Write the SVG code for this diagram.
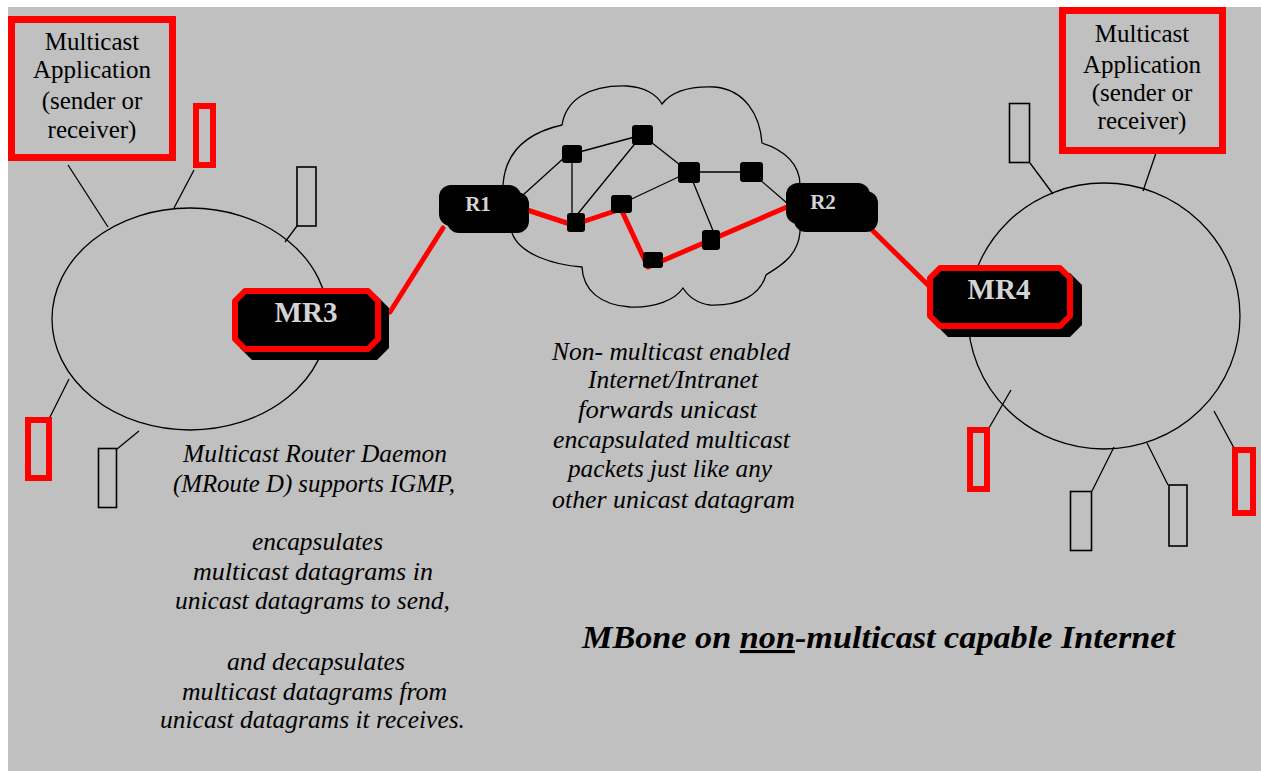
<svg xmlns="http://www.w3.org/2000/svg" width="1261" height="771" viewBox="0 0 1261 771">
  <style>
    .wire { fill: none; stroke: #000; stroke-width: 1.3; }
    .lan { fill: none; stroke: #000; stroke-width: 1.3; }
    .red { fill: none; stroke: #ff0000; stroke-linecap: round; stroke-linejoin: round; }
    .host { fill: none; stroke: #000; stroke-width: 1.6; }
    .host-red { fill: none; stroke: #ff0000; stroke-width: 6; }
    .appbox { fill: none; stroke: #ff0000; stroke-width: 7; }
    .app { font-family: "Liberation Serif", "Times New Roman", serif; font-size: 25px; fill: #000; text-anchor: middle; }
    .note { font-family: "Liberation Serif", "Times New Roman", serif; font-size: 25px; font-style: italic; fill: #000; }
    .title { font-family: "Liberation Serif", "Times New Roman", serif; font-size: 31px; font-style: italic; font-weight: bold; fill: #000; }
    .rlabel { font-family: "Liberation Serif", "Times New Roman", serif; font-weight: bold; fill: #d4d4d4; text-anchor: middle; }
    .node { fill: #000; }
    .mrouter { fill: #000; stroke: #ff0000; stroke-width: 6; stroke-linejoin: round; }
  </style>

  <!-- canvas -->
  <rect x="0" y="0" width="1261" height="771" fill="#ffffff"/>
  <rect x="8" y="7" width="1253" height="764" fill="#c0c0c0"/>

  <!-- LAN segments -->
  <g id="lan-left">
    <ellipse class="lan" cx="190" cy="319" rx="138" ry="111"/>
  </g>
  <g id="lan-right">
    <ellipse class="lan" cx="1104" cy="316" rx="136" ry="133"/>
  </g>

  <!-- non-multicast internet cloud -->
  <g id="cloud">
    <path class="lan" d="M503,185 C505,155 522,134 562,125 C566,100 588,85 627,86 C645,87 657,95 662,104 C671,92 690,86 715,87 C745,90 760,115 762,143 C785,150 800,165 800,185 L800,232 C798,258 776,268 766,275 C760,295 740,306 710,305 C696,303 688,296 683,288 C675,300 655,308 630,307 C600,305 583,290 582,267 C555,265 520,255 512,233 Z"/>
  </g>

  <!-- connectors -->
  <g id="connectors">
    <!-- taps on the left LAN -->
    <line class="wire" x1="68" y1="165" x2="108" y2="227"/>
    <line class="wire" x1="194" y1="170" x2="174" y2="208"/>
    <line class="wire" x1="297" y1="226" x2="285" y2="242"/>
    <line class="wire" x1="49" y1="419" x2="69" y2="379"/>
    <line class="wire" x1="117" y1="449" x2="139" y2="431"/>
    <!-- taps on the right LAN -->
    <line class="wire" x1="1030" y1="163" x2="1053" y2="194"/>
    <line class="wire" x1="1156" y1="153" x2="1143" y2="191"/>
    <line class="wire" x1="989" y1="428" x2="1011" y2="390"/>
    <line class="wire" x1="1092" y1="491" x2="1114" y2="447"/>
    <line class="wire" x1="1168" y1="485" x2="1147" y2="443"/>
    <line class="wire" x1="1234" y1="448" x2="1214" y2="411"/>
    <!-- links inside the cloud -->
    <line class="wire" x1="523" y1="195" x2="565" y2="157"/>
    <line class="wire" x1="572" y1="154" x2="642" y2="135"/>
    <line class="wire" x1="572" y1="154" x2="572" y2="218"/>
    <line class="wire" x1="642" y1="135" x2="576" y2="216"/>
    <line class="wire" x1="642" y1="135" x2="689" y2="172"/>
    <line class="wire" x1="621" y1="204" x2="689" y2="172"/>
    <line class="wire" x1="689" y1="172" x2="751" y2="172"/>
    <line class="wire" x1="689" y1="172" x2="716" y2="238"/>
    <line class="wire" x1="751" y1="172" x2="788" y2="204"/>
    <!-- unicast tunnel path -->
    <line class="red" stroke-width="5" x1="390" y1="312" x2="443" y2="228"/>
    <polyline class="red" stroke-width="5" points="518,207 573,225 621,209 648,267 787,207"/>
    <line class="red" stroke-width="5" x1="866" y1="224" x2="929" y2="286"/>
  </g>

  <!-- routers inside the cloud -->
  <g id="cloud-routers">
    <rect class="node" x="562" y="145" width="20" height="18" rx="3"/>
    <rect class="node" x="632" y="125" width="21" height="20" rx="3"/>
    <rect class="node" x="678" y="162" width="22" height="21" rx="3"/>
    <rect class="node" x="740" y="162" width="23" height="20" rx="3"/>
    <rect class="node" x="611" y="195" width="21" height="18" rx="3"/>
    <rect class="node" x="567" y="213" width="18" height="19" rx="3"/>
    <rect class="node" x="702" y="230" width="18" height="20" rx="3"/>
    <rect class="node" x="643" y="252" width="20" height="16" rx="3"/>
  </g>

  <!-- unicast routers -->
  <g id="R1">
    <rect class="node" x="439" y="185" width="82" height="41" rx="12"/>
    <rect class="node" x="447" y="192" width="82" height="41" rx="12"/>
    <text class="rlabel" x="478" y="211" font-size="21">R1</text>
  </g>
  <g id="R2">
    <rect class="node" x="786" y="183" width="84" height="41" rx="12"/>
    <rect class="node" x="794" y="191" width="84" height="41" rx="12"/>
    <text class="rlabel" x="823" y="209" font-size="21">R2</text>
  </g>

  <!-- multicast routers -->
  <g id="MR3">
    <path class="node" d="M252,296 H377 L389,308 V348 L377,360 H252 L240,348 V308 Z"/>
    <path class="mrouter" d="M245,291 H368 L378,301 V339 L368,349 H245 L235,339 V301 Z"/>
    <text class="rlabel" x="306" y="322" font-size="29">MR3</text>
  </g>
  <g id="MR4">
    <path class="node" d="M948,273 H1070 L1082,285 V325 L1070,337 H948 L936,325 V285 Z"/>
    <path class="mrouter" d="M940,268 H1060 L1070,278 V316 L1060,326 H940 L930,316 V278 Z"/>
    <text class="rlabel" x="999" y="299" font-size="29">MR4</text>
  </g>

  <!-- applications -->
  <g id="app-left">
    <rect class="appbox" x="11.5" y="19.5" width="161" height="138"/>
    <text class="app" x="92" y="50">Multicast</text>
    <text class="app" x="92" y="78">Application</text>
    <text class="app" x="92" y="109">(sender or</text>
    <text class="app" x="92" y="138">receiver)</text>
  </g>
  <g id="app-right">
    <rect class="appbox" x="1062.5" y="10.5" width="160" height="140"/>
    <text class="app" x="1142" y="42">Multicast</text>
    <text class="app" x="1142" y="73">Application</text>
    <text class="app" x="1142" y="101">(sender or</text>
    <text class="app" x="1142" y="129">receiver)</text>
  </g>

  <!-- hosts -->
  <g id="host-l1"><rect class="host-red" x="196" y="106" width="17" height="59"/></g>
  <g id="host-l2"><rect class="host" x="297" y="167" width="19" height="59" stroke-width="2.5"/></g>
  <g id="host-l3"><rect class="host-red" x="28" y="420" width="21" height="58"/></g>
  <g id="host-l4"><rect class="host" x="98.5" y="448.5" width="18" height="59"/></g>
  <g id="host-r1"><rect class="host" x="1009.5" y="103.5" width="20" height="59"/></g>
  <g id="host-r2"><rect class="host-red" x="970" y="430" width="17" height="59"/></g>
  <g id="host-r3"><rect class="host" x="1070.5" y="491.5" width="21" height="59"/></g>
  <g id="host-r4"><rect class="host" x="1169" y="485" width="18" height="61" stroke-width="2.5"/></g>
  <g id="host-r5"><rect class="host-red" x="1235" y="450" width="18" height="63"/></g>

  <!-- annotations -->
  <g id="mrouted-note">
    <text class="note" x="183" y="462" textLength="264" lengthAdjust="spacingAndGlyphs">Multicast Router Daemon</text>
    <text class="note" x="173" y="492" textLength="282" lengthAdjust="spacingAndGlyphs">(MRoute D) supports IGMP,</text>
    <text class="note" x="252" y="550" textLength="131" lengthAdjust="spacingAndGlyphs">encapsulates</text>
    <text class="note" x="193" y="580" textLength="240" lengthAdjust="spacingAndGlyphs">multicast datagrams in</text>
    <text class="note" x="175" y="609" textLength="275" lengthAdjust="spacingAndGlyphs">unicast datagrams to send,</text>
    <text class="note" x="227" y="670" textLength="178" lengthAdjust="spacingAndGlyphs">and decapsulates</text>
    <text class="note" x="182" y="700" textLength="265" lengthAdjust="spacingAndGlyphs">multicast datagrams from</text>
    <text class="note" x="160" y="728" textLength="305" lengthAdjust="spacingAndGlyphs">unicast datagrams it receives.</text>
  </g>
  <g id="cloud-note">
    <text class="note" x="552" y="360" textLength="238" lengthAdjust="spacingAndGlyphs">Non- multicast enabled</text>
    <text class="note" x="588" y="388" textLength="170" lengthAdjust="spacingAndGlyphs">Internet/Intranet</text>
    <text class="note" x="578" y="418" textLength="179" lengthAdjust="spacingAndGlyphs">forwards unicast</text>
    <text class="note" x="553" y="448" textLength="237" lengthAdjust="spacingAndGlyphs">encapsulated multicast</text>
    <text class="note" x="568" y="477" textLength="204" lengthAdjust="spacingAndGlyphs">packets just like any</text>
    <text class="note" x="552" y="508" textLength="243" lengthAdjust="spacingAndGlyphs">other unicast datagram</text>
  </g>
  <g id="title">
    <text class="title" x="582" y="648" textLength="593" lengthAdjust="spacingAndGlyphs">MBone on <tspan text-decoration="underline">non</tspan>-multicast capable Internet</text>
  </g>
</svg>
